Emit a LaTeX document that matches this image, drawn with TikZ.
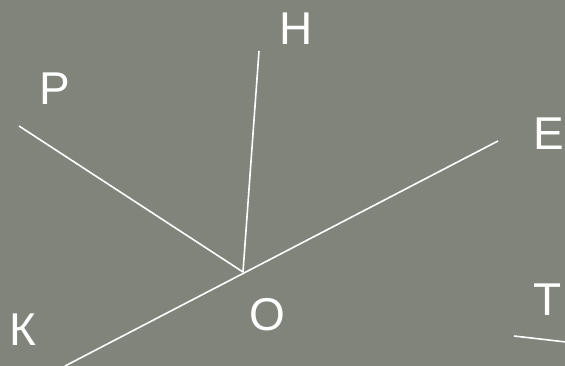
\documentclass[tikz,border=0pt]{standalone}
\usepackage{fontspec}
\setmainfont{Liberation Sans}
\usetikzlibrary{positioning}
\definecolor{kbg}{RGB}{128,132,122}

\begin{document}
\begin{tikzpicture}[x=1pt, y=-1pt]
\tikzset{
  ray/.style={draw=white, line width=1.6pt},
  letter/.style={text=white, font=\fontsize{46}{46}\selectfont, anchor=base, inner sep=0pt}
}
\fill[kbg] (0,0) rectangle (565,366);
\useasboundingbox (0,0) rectangle (565,366);
% rays out of the vertex
\coordinate (o) at (243,272);
\coordinate (p) at (19,126);
\coordinate (h) at (259,51);
\coordinate (e) at (498,141);
\coordinate (k) at (65,366);
\coordinate (t1) at (514,336);
\coordinate (t2) at (566,342);
\draw[ray] (o) -- (p);
\draw[ray] (o) -- (h);
\draw[ray] (e) -- (k);
\draw[ray] (t1) -- (t2);
% labels
\node[letter] (lp) at (55,105) {Р};
\node[letter] (lh) at (296,45) {Н};
\node[letter] (le) at (549,150) {Е};
\node[letter] (lk) at (23,345) {К};
\node[letter] (lo) at (267,330) {О};
\node[letter] (lt) at (548,315) {Т};
\end{tikzpicture}
\end{document}
